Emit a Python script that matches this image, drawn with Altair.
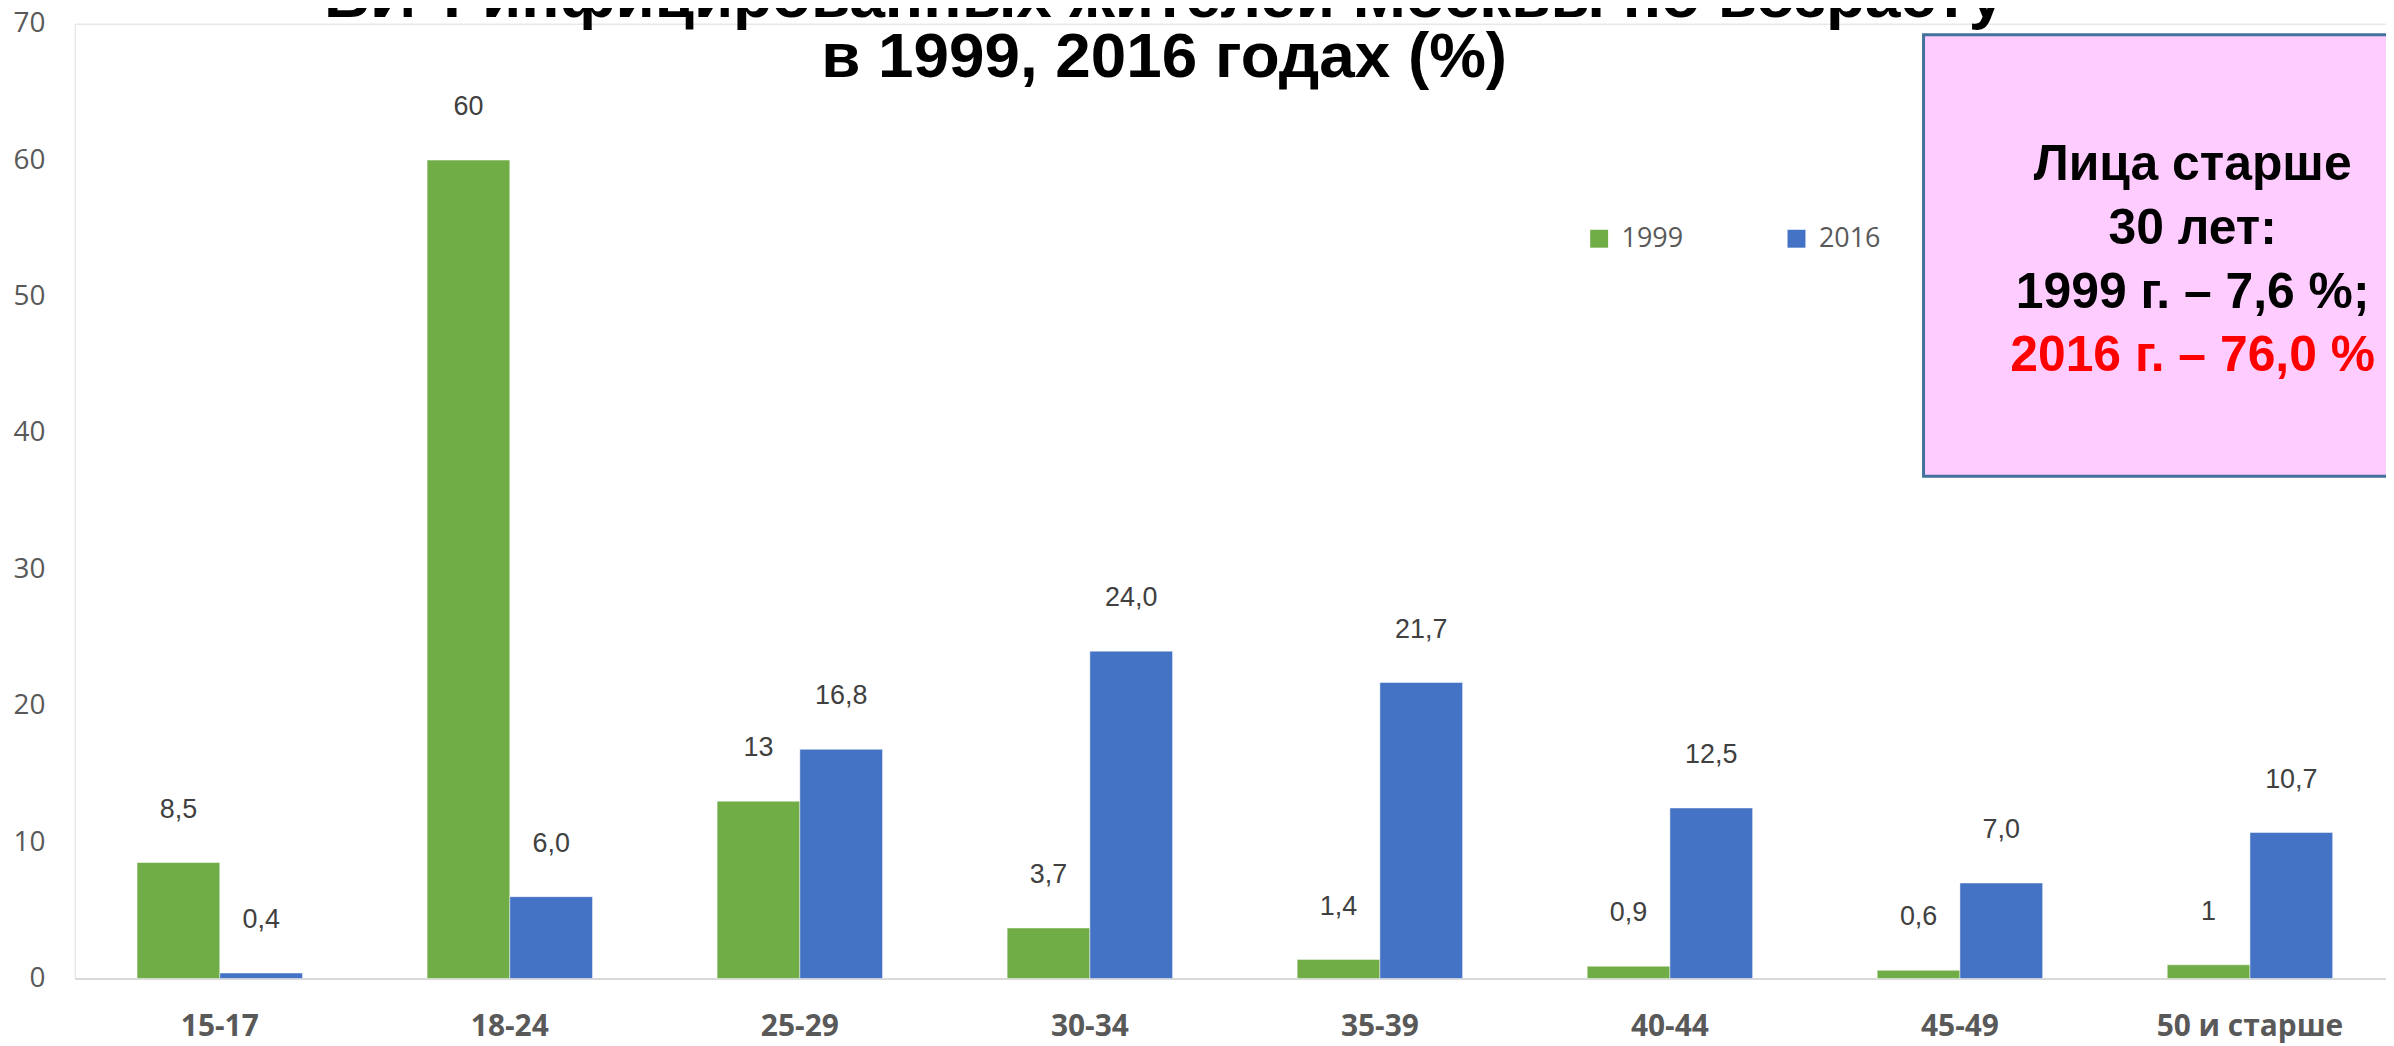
import altair as alt
import pandas as pd

# ---- data ----
groups = ["15-17", "18-24", "25-29", "30-34", "35-39", "40-44", "45-49", "50 и старше"]
years = ["1999", "2016"]
values_1999 = [8.5, 60, 13, 3.7, 1.4, 0.9, 0.6, 1]
values_2016 = [0.4, 6.0, 16.8, 24.0, 21.7, 12.5, 7.0, 10.7]
labels_1999 = ["8,5", "60", "13", "3,7", "1,4", "0,9", "0,6", "1"]
labels_2016 = ["0,4", "6,0", "16,8", "24,0", "21,7", "12,5", "7,0", "10,7"]
y_ticks = [0, 10, 20, 30, 40, 50, 60, 70]
series_colors = ["#70AD47", "#4472C4"]

title_lines = ["ВИЧ-инфицированных жителей Москвы по возрасту", "в 1999, 2016 годах (%)"]
box_lines = ["Лица старше", "30 лет:", "1999 г. – 7,6 %;"]
box_red_line = "2016 г. – 76,0 %"

rows = []
for g, v, l in zip(groups, values_1999, labels_1999):
    rows.append({"group": g, "year": "1999", "value": v, "label": l})
for g, v, l in zip(groups, values_2016, labels_2016):
    rows.append({"group": g, "year": "2016", "value": v, "label": l})
df = pd.DataFrame(rows)

W, H = 2319, 958

x_enc = alt.X(
    "group:N",
    sort=groups,
    scale=alt.Scale(domain=groups, range=[0, 2328], paddingInner=0.4296, paddingOuter=0.2148),
    axis=alt.Axis(
        title=None, labelAngle=0, labelFont="Open Sans", labelFontSize=30,
        labelFontWeight="bold", labelColor="#595959", labelPadding=33, labelLimit=0,
        ticks=False, domain=True, domainColor="#D9D9D9", domainWidth=2,
    ),
)
xo_enc = alt.XOffset("year:N", scale=alt.Scale(domain=years, paddingInner=0, paddingOuter=0))
y_enc = alt.Y(
    "value:Q",
    scale=alt.Scale(domain=[0, 70], nice=False, zero=True),
    axis=alt.Axis(
        title=None, values=y_ticks, grid=False, domain=False, ticks=False,
        labelFont="Open Sans", labelFontSize=28, labelColor="#595959", labelPadding=30,
    ),
)

base = alt.Chart(df)
bars = base.mark_bar(stroke="white", strokeWidth=0.8, strokeOpacity=0.6).encode(
    x=x_enc,
    xOffset=xo_enc,
    y=y_enc,
    color=alt.Color(
        "year:N",
        scale=alt.Scale(domain=years, range=series_colors),
        legend=alt.Legend(
            orient="none", legendX=1516, legendY=202, direction="horizontal",
            title=None, symbolType="square", symbolSize=324, symbolStrokeWidth=0,
            labelFontSize=27, labelFont="Open Sans", labelColor="#595959",
            columnPadding=100, labelOffset=9, padding=0,
        ),
    ),
)
labels = base.mark_text(
    font="Liberation Sans", fontSize=27, color="#404040", baseline="middle", dy=-53
).encode(x=x_enc, xOffset=xo_enc, y=y_enc, text="label:N")

one = alt.Data(values=[{"k": 1}])
box = alt.Chart(one).mark_rect(fill="#FFCCFF", stroke="#41719C", strokeWidth=3).encode(
    x=alt.value(1855), x2=alt.value(2395), y=alt.value(11), y2=alt.value(454)
)
box_text = alt.Chart(one).mark_text(
    text=box_lines, font="Liberation Sans", fontSize=50, fontWeight="bold",
    color="black", align="center", baseline="alphabetic", lineHeight=64,
).encode(x=alt.value(2125), y=alt.value(157))
box_red = alt.Chart(one).mark_text(
    text=box_red_line, font="Liberation Sans", fontSize=50, fontWeight="bold",
    color="#FF0000", align="center", baseline="alphabetic",
).encode(x=alt.value(2125), y=alt.value(348))
title = alt.Chart(one).mark_text(
    text=title_lines, font="Liberation Sans", fontSize=64, fontWeight="bold",
    color="black", align="center", baseline="alphabetic", lineHeight=60,
).encode(x=alt.value(1093), y=alt.value(-7))

chart = alt.layer(box, box_text, box_red, title, bars, labels).properties(
    width=W, height=H,
    autosize=alt.AutoSizeParams(type="none"),
    padding={"left": 67, "top": 14, "right": 0, "bottom": 66},
).configure_view(stroke=None).configure(background="white")

chart.save("out.html", embed_options={"renderer": "svg", "actions": False})
